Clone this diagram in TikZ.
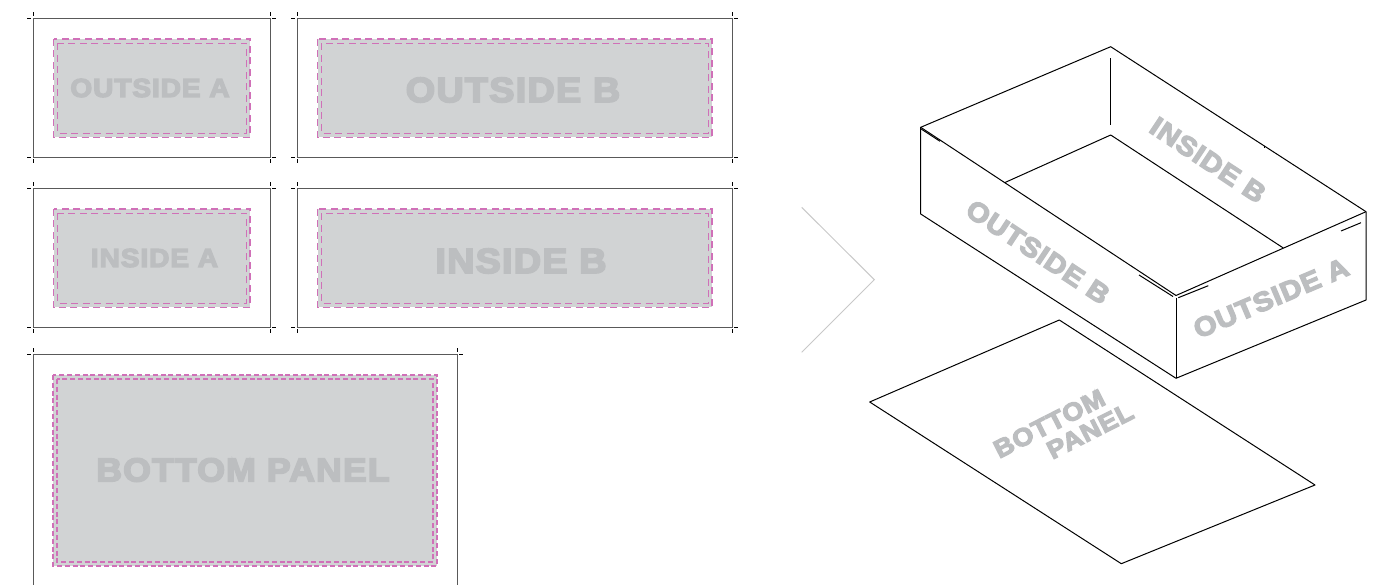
\documentclass[tikz,border=0pt]{standalone}
\usepackage{fontspec}
\newfontfamily\blk[FakeBold=5,FakeStretch=1.08,LetterSpace=3.5]{Liberation Sans Bold}
\definecolor{pgray}{HTML}{D1D3D4}
\definecolor{tgray}{HTML}{BCBEC0}
\definecolor{pmag}{HTML}{D070B8}
\definecolor{chev}{HTML}{C8C8C8}
\tikzset{
 trim/.style={draw=black!65,line width=1pt},
 crop/.style={draw=black,line width=0.8pt},
 bleed/.style={fill=pgray},
 dashline/.style={draw=pmag,line width=1.25pt,dash pattern=on 7pt off 4.5pt},
 dashfine/.style={draw=pmag,line width=1.25pt,dash pattern=on 5pt off 2.8pt},
 boxline/.style={draw=black,line width=1pt,line join=round},
 lab/.style={text=tgray,inner sep=0pt,font=\blk},
}
\newcommand{\panel}[4]{% x0,y0,x1,y1 of trim
 \draw[trim] (#1,#2) rectangle (#3,#4);
 \draw[crop] (#1-6,#2) -- (#1-2,#2) (#1,#2-6) -- (#1,#2-2)
  (#3+2,#2) -- (#3+6,#2) (#3,#2-6) -- (#3,#2-2)
  (#1-6,#4) -- (#1-2,#4) (#1,#4+2) -- (#1,#4+6)
  (#3+2,#4) -- (#3+6,#4) (#3,#4+2) -- (#3,#4+6);
 \fill[bleed] (#1+20.5,#2+20.5) rectangle (#3-20,#4-20);
 \draw[dashline] (#1+20.5,#2+20.5) rectangle (#3-20,#4-20);
 \draw[dashline] (#1+24.5,#2+25) rectangle (#3-23.5,#4-24);
}
\begin{document}
\begin{tikzpicture}[x=1pt,y=-1pt]
\useasboundingbox (0,0) rectangle (1382,585);
\panel{33}{18.5}{270}{157.5}
\panel{297}{18.5}{732}{157.5}
\panel{33}{188.5}{270}{327.5}
\panel{297}{188.5}{732}{327.5}
% bottom panel, runs off the page
\draw[trim] (33,585) -- (33,354.5) -- (457,354.5) -- (457,585);
\draw[crop] (27,354.5) -- (31,354.5) (33,348.5) -- (33,352.5) (459,354.5) -- (463,354.5) (457,348.5) -- (457,352.5);
\fill[bleed] (53,375) rectangle (437,566);
\draw[dashfine] (53,375) rectangle (437,566);
\draw[dashfine] (57,379) rectangle (433,562);
\node[lab,font=\blk\fontsize{26}{26}\selectfont] (la) at (150,88) {OUTSIDE A};
\node[lab,font=\blk\fontsize{35}{35}\selectfont] (lb) at (513,90) {OUTSIDE B};
\node[lab,font=\blk\fontsize{26}{26}\selectfont] (lc) at (154.5,258) {INSIDE A};
\node[lab,font=\blk\fontsize{35}{35}\selectfont] (ld) at (521,261) {INSIDE B};
\node[lab,font=\blk\fontsize{33}{33}\selectfont] (le) at (243,470) {BOTTOM PANEL};
% chevron
\draw[draw=chev,line width=1pt] (801.7,207.3) -- (874.3,279.7) -- (801.7,352.3);
% box
\draw[boxline] (920.7,127.3) -- (1110.7,46.7) -- (1366,211.7) -- (1366,300) -- (1176,378.3) -- (920.7,214) -- cycle;
\draw[boxline] (920.7,127.3) -- (1176,295.5) -- (1366,211.7);
\draw[boxline] (1176,298) -- (1176,378.3);
\draw[boxline] (1005,182.5) -- (1110.7,135) -- (1283.3,248);
\draw[boxline] (1110.7,58.3) -- (1110.7,125);
\draw[boxline] (920.7,128.7) -- (940,141.3);
\draw[boxline] (1139,275) -- (1173,296.5);
\draw[boxline] (1178.3,297.7) -- (1208.3,285.7);
\draw[boxline] (1341,231) -- (1361,222.7);
\draw[boxline] (1264,146.5) -- (1264,148.5);
\node[lab,font=\blk\fontsize{27}{27}\selectfont,rotate=-33.5] (ra) at (1208,160) {INSIDE B};
\node[lab,font=\blk\fontsize{27}{27}\selectfont,rotate=-33.5] (rb) at (1038,252) {OUTSIDE B};
\node[lab,font=\blk\fontsize{27}{27}\selectfont,rotate=23] (rc) at (1271,298) {OUTSIDE A};
% bottom sheet
\draw[boxline] (1059.3,320) -- (869.7,402) -- (1121.3,563.7) -- (1315,485) -- cycle;
\node[lab,font=\blk\fontsize{25}{25}\selectfont,rotate=27,align=left] (rd) at (1063.4,430.3) {BOTTOM\\\hspace*{47pt}PANEL};
\end{tikzpicture}
\end{document}
